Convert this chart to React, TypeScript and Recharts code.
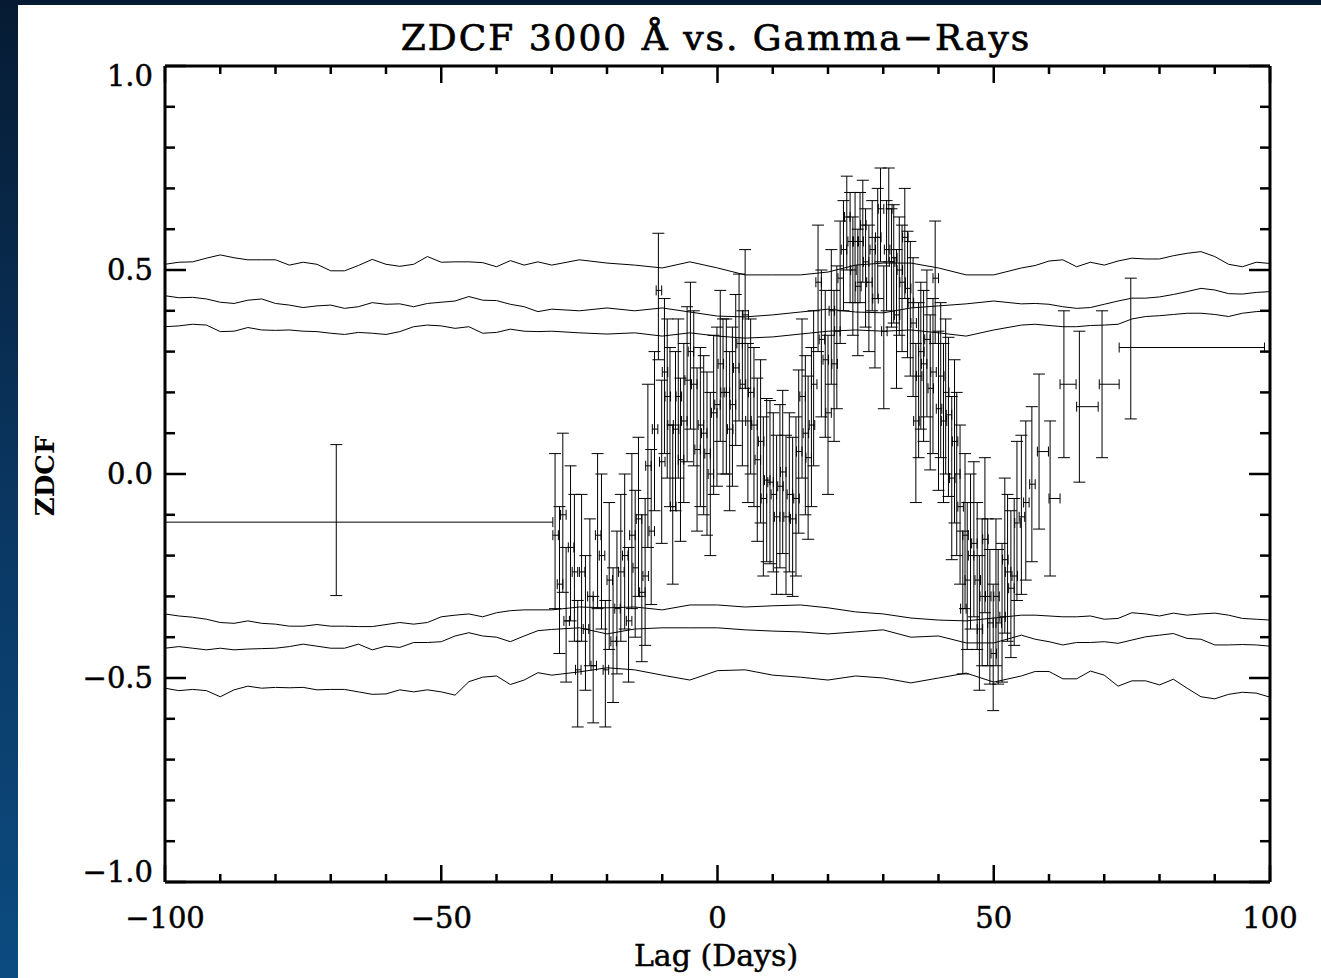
import { ComposedChart, Line, Scatter, ErrorBar, XAxis, YAxis } from "recharts";

// confidence contours (finer sampling where they are not hidden by the points)
const lagGrid = [
  -100, -97.5, -95, -92.5, -90, -87.5, -85, -82.5, -80, -77.5, -75, -72.5, -70, -67.5, -65, -62.5, -60, -57.5, -55, -52.5,
  -50, -47.5, -45, -42.5, -40, -37.5, -35, -32.5, -30,
  -25, -20, -15, -10, -5, 0, 5, 10, 15, 20, 25, 30, 35, 40, 45, 50, 55,
  57.5, 60, 62.5, 65, 67.5, 70, 72.5, 75, 77.5, 80, 82.5, 85, 87.5, 90, 92.5, 95, 97.5, 100,
];
const upperOuter = [
  0.514, 0.519, 0.52, 0.529, 0.537, 0.53, 0.525, 0.525, 0.525, 0.512, 0.519, 0.514, 0.498, 0.498, 0.511, 0.526, 0.514, 0.509, 0.514, 0.533,
  0.519, 0.52, 0.52, 0.518, 0.508, 0.523, 0.512, 0.52, 0.512,
  0.525, 0.517, 0.512, 0.505, 0.52, 0.505, 0.488, 0.488, 0.488, 0.495, 0.512, 0.517, 0.517, 0.505, 0.488, 0.488, 0.505,
  0.511, 0.522, 0.525, 0.508, 0.519, 0.512, 0.522, 0.529, 0.527, 0.527, 0.535, 0.541, 0.545, 0.533, 0.514, 0.508, 0.519, 0.516,
];
const upperMid = [
  0.437, 0.432, 0.433, 0.429, 0.421, 0.418, 0.426, 0.429, 0.418, 0.414, 0.408, 0.412, 0.414, 0.406, 0.41, 0.42, 0.416, 0.417, 0.41, 0.418,
  0.421, 0.424, 0.435, 0.426, 0.425, 0.416, 0.41, 0.398, 0.404,
  0.4, 0.407, 0.4, 0.407, 0.397, 0.387, 0.385, 0.39, 0.397, 0.404, 0.397, 0.395, 0.407, 0.412, 0.417, 0.424, 0.417,
  0.418, 0.416, 0.41, 0.406, 0.408, 0.416, 0.424, 0.431, 0.431, 0.434, 0.44, 0.447, 0.455, 0.451, 0.442, 0.441, 0.445, 0.447,
];
const upperInner = [
  0.361, 0.363, 0.367, 0.365, 0.349, 0.35, 0.359, 0.353, 0.352, 0.353, 0.35, 0.349, 0.345, 0.342, 0.347, 0.345, 0.342, 0.349, 0.361, 0.365,
  0.363, 0.357, 0.361, 0.345, 0.347, 0.355, 0.35, 0.349, 0.35,
  0.346, 0.343, 0.346, 0.338, 0.346, 0.338, 0.333, 0.336, 0.343, 0.35, 0.353, 0.35, 0.353, 0.346, 0.338, 0.353, 0.365,
  0.367, 0.364, 0.361, 0.361, 0.364, 0.365, 0.367, 0.38, 0.386, 0.388, 0.391, 0.394, 0.394, 0.391, 0.386, 0.394, 0.398, 0.4,
];
const lowerInner = [
  -0.343, -0.348, -0.351, -0.356, -0.364, -0.366, -0.36, -0.366, -0.368, -0.373, -0.373, -0.369, -0.373, -0.373, -0.374, -0.374, -0.369, -0.364, -0.368, -0.364,
  -0.35, -0.346, -0.343, -0.35, -0.34, -0.335, -0.333, -0.333, -0.333,
  -0.326, -0.328, -0.326, -0.333, -0.321, -0.321, -0.326, -0.323, -0.321, -0.328, -0.338, -0.343, -0.353, -0.358, -0.36, -0.353, -0.346,
  -0.346, -0.348, -0.35, -0.35, -0.348, -0.356, -0.354, -0.34, -0.343, -0.348, -0.341, -0.346, -0.343, -0.341, -0.346, -0.354, -0.356, -0.358,
];
const lowerMid = [
  -0.427, -0.423, -0.427, -0.431, -0.427, -0.431, -0.429, -0.428, -0.427, -0.423, -0.417, -0.422, -0.427, -0.427, -0.417, -0.431, -0.422, -0.425, -0.413, -0.413,
  -0.411, -0.397, -0.389, -0.397, -0.4, -0.411, -0.397, -0.384, -0.381,
  -0.377, -0.392, -0.38, -0.377, -0.377, -0.377, -0.382, -0.385, -0.387, -0.392, -0.387, -0.382, -0.4, -0.397, -0.414, -0.414, -0.395,
  -0.405, -0.411, -0.419, -0.413, -0.413, -0.411, -0.415, -0.407, -0.399, -0.395, -0.391, -0.403, -0.405, -0.419, -0.419, -0.418, -0.419, -0.422,
];
const lowerOuter = [
  -0.525, -0.531, -0.528, -0.531, -0.546, -0.529, -0.52, -0.525, -0.523, -0.524, -0.523, -0.529, -0.528, -0.528, -0.534, -0.54, -0.539, -0.529, -0.534, -0.529,
  -0.534, -0.542, -0.509, -0.498, -0.495, -0.516, -0.505, -0.487, -0.493,
  -0.485, -0.475, -0.48, -0.493, -0.505, -0.482, -0.48, -0.493, -0.498, -0.505, -0.495, -0.5, -0.512, -0.5, -0.488, -0.51, -0.495,
  -0.484, -0.484, -0.502, -0.502, -0.483, -0.493, -0.52, -0.507, -0.507, -0.517, -0.503, -0.525, -0.546, -0.551, -0.54, -0.535, -0.537, -0.547,
];

// ZDCF points
const lags = [
  -69.0, -29.4, -28.6, -28.0, -27.4, -26.6, -25.9, -25.3, -24.6, -23.9,
  -23.1, -22.5, -21.7, -21.0, -20.3, -19.6, -18.9, -18.2, -17.5, -16.8,
  -16.1, -15.5, -14.9, -14.3, -13.7, -13.1, -12.6, -12.0, -11.4, -10.7,
  -10.1, -9.6, -9.1, -8.6, -8.1, -7.6, -7.1, -6.7, -6.1, -5.5,
  -4.9, -4.3, -3.7, -3.1, -2.5, -1.9, -1.3, -0.7, -0.1, 0.5,
  1.0, 1.6, 2.2, 2.7, 3.3, 3.9, 4.5, 5.0, 5.5, 6.0,
  6.6, 7.2, 7.8, 8.3, 8.9, 9.5, 10.1, 10.7, 11.3, 11.8,
  12.4, 13.0, 13.6, 14.2, 14.7, 15.3, 15.9, 16.4, 17.0, 17.4,
  18.2, 18.8, 19.5, 20.0, 20.6, 21.1, 21.6, 22.2, 22.8, 23.4,
  24.0, 24.5, 24.9, 25.4, 25.8, 26.3, 26.8, 27.4, 28.0, 28.5,
  29.0, 29.5, 30.1, 30.6, 31.0, 31.5, 31.9, 32.4, 32.9, 33.4,
  33.9, 34.4, 34.9, 35.4, 35.9, 36.4, 36.8, 37.3, 37.9, 38.5,
  39.0, 39.4, 40.0, 40.4, 40.9, 41.3, 41.8, 42.4, 42.9, 43.3,
  43.9, 44.4, 44.8, 45.2, 45.8, 46.4, 47.0, 47.4, 47.9, 48.4,
  48.9, 49.3, 49.9, 50.4, 50.8, 51.5, 52.0, 52.5, 53.1, 53.7,
  54.2, 55.0, 55.8, 56.9, 58.2, 60.2, 62.7, 65.5, 69.6, 74.8,
];
const zdcf = [
  -0.118, -0.15, -0.27, -0.1, -0.36, -0.18, -0.24, -0.48, -0.24, -0.38,
  -0.3, -0.47, -0.15, -0.2, -0.48, -0.26, -0.41, -0.33, -0.24, -0.2,
  -0.36, -0.15, -0.23, -0.11, -0.29, -0.25, 0.02, -0.14, 0.11, 0.45,
  0.03, 0.25, 0.19, 0.12, -0.08, 0.11, 0.19, 0.035, 0.13, 0.23,
  0.3, 0.22, 0.06, 0.12, 0.1, 0.05, 0.0, 0.15, 0.17, 0.27,
  0.2, 0.2, 0.11, 0.17, 0.26, 0.32, 0.22, 0.39, 0.13, 0.2,
  0.12, 0.035, 0.08, -0.06, -0.015, -0.02, -0.05, -0.105, -0.03, 0.005,
  -0.105, -0.05, -0.11, -0.06, 0.055, 0.19, 0.1, 0.04, 0.12, 0.22,
  0.47, 0.33, 0.28, 0.15, 0.4, 0.27, 0.35, 0.48, 0.55, 0.63,
  0.57, 0.5, 0.57, 0.46, 0.57, 0.61, 0.52, 0.47, 0.55, 0.43,
  0.58, 0.65, 0.35, 0.55, 0.65, 0.52, 0.53, 0.39, 0.5, 0.47,
  0.58, 0.455, 0.42, 0.37, 0.13, 0.24, 0.3, 0.27, 0.33, 0.21,
  0.25, 0.48, 0.16, 0.24, 0.13, 0.2, 0.145, -0.01, 0.08, 0.0,
  -0.08, -0.33, -0.15, -0.26, -0.2, -0.17, -0.26, -0.38, -0.3, -0.16,
  -0.3, -0.365, -0.44, -0.3, -0.365, -0.35, -0.21, -0.24, -0.28, -0.25,
  -0.12, -0.105, -0.07, -0.025, 0.055, -0.06, 0.22, 0.165, 0.22, 0.31,
];
const zdcfErrDown = [
  0.18, 0.18, 0.17, 0.19, 0.15, 0.18, 0.17, 0.14, 0.17, 0.15,
  0.17, 0.14, 0.18, 0.18, 0.14, 0.17, 0.15, 0.16, 0.17, 0.18,
  0.15, 0.18, 0.17, 0.19, 0.17, 0.17, 0.2, 0.18, 0.2, 0.17,
  0.2, 0.2, 0.2, 0.2, 0.19, 0.2, 0.2, 0.2, 0.2, 0.2,
  0.19, 0.2, 0.2, 0.2, 0.2, 0.2, 0.2, 0.2, 0.2, 0.19,
  0.2, 0.2, 0.2, 0.2, 0.19, 0.19, 0.2, 0.18, 0.2, 0.2,
  0.2, 0.2, 0.2, 0.19, 0.2, 0.2, 0.19, 0.19, 0.2, 0.2,
  0.19, 0.19, 0.19, 0.19, 0.2, 0.2, 0.2, 0.2, 0.2, 0.2,
  0.17, 0.19, 0.19, 0.2, 0.18, 0.19, 0.19, 0.16, 0.15, 0.13,
  0.15, 0.16, 0.15, 0.17, 0.15, 0.14, 0.16, 0.17, 0.15, 0.17,
  0.15, 0.13, 0.19, 0.15, 0.13, 0.16, 0.16, 0.18, 0.16, 0.17,
  0.15, 0.17, 0.18, 0.18, 0.2, 0.2, 0.19, 0.19, 0.19, 0.2,
  0.2, 0.16, 0.2, 0.2, 0.2, 0.2, 0.2, 0.2, 0.2, 0.2,
  0.19, 0.16, 0.18, 0.17, 0.18, 0.18, 0.17, 0.15, 0.17, 0.18,
  0.17, 0.15, 0.14, 0.17, 0.15, 0.16, 0.18, 0.17, 0.17, 0.17,
  0.19, 0.19, 0.19, 0.19, 0.19, 0.19, 0.18, 0.185, 0.18, 0.175,
];
const zdcfErrUp = [
  0.19, 0.2, 0.19, 0.2, 0.18, 0.2, 0.19, 0.17, 0.19, 0.18,
  0.19, 0.17, 0.2, 0.2, 0.17, 0.19, 0.18, 0.19, 0.19, 0.2,
  0.18, 0.2, 0.19, 0.2, 0.19, 0.19, 0.2, 0.2, 0.19, 0.14,
  0.2, 0.18, 0.19, 0.19, 0.2, 0.19, 0.19, 0.2, 0.19, 0.18,
  0.17, 0.18, 0.2, 0.19, 0.19, 0.2, 0.2, 0.19, 0.19, 0.18,
  0.18, 0.18, 0.19, 0.19, 0.18, 0.17, 0.18, 0.16, 0.19, 0.18,
  0.19, 0.2, 0.2, 0.2, 0.2, 0.2, 0.2, 0.2, 0.2, 0.2,
  0.2, 0.2, 0.2, 0.2, 0.2, 0.19, 0.19, 0.2, 0.19, 0.18,
  0.14, 0.17, 0.17, 0.19, 0.15, 0.18, 0.16, 0.14, 0.12, 0.1,
  0.12, 0.13, 0.12, 0.14, 0.12, 0.11, 0.13, 0.14, 0.12, 0.15,
  0.12, 0.1, 0.16, 0.12, 0.1, 0.13, 0.13, 0.16, 0.13, 0.14,
  0.12, 0.14, 0.15, 0.16, 0.19, 0.18, 0.17, 0.18, 0.17, 0.18,
  0.18, 0.14, 0.19, 0.18, 0.19, 0.18, 0.19, 0.2, 0.2, 0.2,
  0.2, 0.19, 0.2, 0.19, 0.2, 0.2, 0.19, 0.18, 0.19, 0.2,
  0.19, 0.18, 0.17, 0.19, 0.18, 0.18, 0.2, 0.19, 0.19, 0.19,
  0.2, 0.2, 0.2, 0.19, 0.19, 0.19, 0.18, 0.185, 0.18, 0.17,
];
// lag errors (days): narrow bins share one width, wide bins listed by lag
const narrowLagErr: [number, number] = [0.4, 0.6];
const wideLagErr: Record<string, [number, number]> = {
  "-69": [31.0, 39.2],
  "58.2": [0.3, 1.7],
  "60.2": [0.2, 1.8],
  "62.7": [0.7, 2.2],
  "65.5": [0.5, 3.4],
  "69.6": [0.5, 3.1],
  "74.8": [2.1, 24.2],
};

const xTicks = [-100, -90, -80, -70, -60, -50, -40, -30, -20, -10, 0, 10, 20, 30, 40, 50, 60, 70, 80, 90, 100];
const yTicks = [-1, -0.9, -0.8, -0.7, -0.6, -0.5, -0.4, -0.3, -0.2, -0.1, 0, 0.1, 0.2, 0.3, 0.4, 0.5, 0.6, 0.7, 0.8, 0.9, 1];

const contourData = lagGrid.map((lag, i) => ({
  lag,
  upperOuter: upperOuter[i],
  upperMid: upperMid[i],
  upperInner: upperInner[i],
  lowerInner: lowerInner[i],
  lowerMid: lowerMid[i],
  lowerOuter: lowerOuter[i],
}));

const points = lags.map((lag, i) => ({
  lag,
  r: zdcf[i],
  rErr: [zdcfErrDown[i], zdcfErrUp[i]],
  lagErr: wideLagErr[String(lag)] || narrowLagErr,
}));

const FONT = '"DejaVu Serif", "Liberation Serif", serif';
const minus = (s: string) => s.replace("-", "\u2212");
const isMajorY = (v: number) => Math.abs(v * 2 - Math.round(v * 2)) < 1e-6;

const BottomTick = (p: any) => {
  const v = p.payload.value;
  const major = v % 50 === 0;
  return (
    <g>
      <line x1={p.x} y1={p.y} x2={p.x} y2={p.y - (major ? 17 : 8)} stroke="#000" strokeWidth={2.5} />
      {major && (
        <text x={p.x} y={p.y + 46} textAnchor="middle" fontFamily={FONT} fontSize={29} fill="#000" stroke="#000" strokeWidth={0.5}>
          {minus(String(v))}
        </text>
      )}
    </g>
  );
};

const TopTick = (p: any) => {
  const major = p.payload.value % 50 === 0;
  return <line x1={p.x} y1={p.y} x2={p.x} y2={p.y + (major ? 17 : 8)} stroke="#000" strokeWidth={2.5} />;
};

const LeftTick = (p: any) => {
  const v = p.payload.value;
  const major = isMajorY(v);
  // end labels are nudged inward like the original
  const dy = v === 1 ? 10 : v === -1 ? -10 : 0;
  return (
    <g>
      <line x1={p.x} y1={p.y} x2={p.x + (major ? 21 : 10)} y2={p.y} stroke="#000" strokeWidth={2.5} />
      {major && (
        <text x={p.x - 12} y={p.y + dy + 10} textAnchor="end" fontFamily={FONT} fontSize={29} fill="#000" stroke="#000" strokeWidth={0.5}>
          {minus(v.toFixed(1))}
        </text>
      )}
    </g>
  );
};

const RightTick = (p: any) => {
  const major = isMajorY(p.payload.value);
  return <line x1={p.x} y1={p.y} x2={p.x - (major ? 21 : 10)} y2={p.y} stroke="#000" strokeWidth={2.5} />;
};

const noDot = () => <g />;
const axisLine = { stroke: "#000", strokeWidth: 3 };

export default function App() {
  return (
    <div
      style={{
        position: "absolute",
        left: 0,
        top: 0,
        width: 1321,
        height: 978,
        overflow: "hidden",
        background: "linear-gradient(180deg, #061b33 0%, #0a3864 55%, #0c4b80 100%)",
      }}
    >
      <div style={{ position: "absolute", left: 18, top: 5, right: 0, bottom: 0, background: "#fff" }} />
      <div style={{ position: "absolute", left: 0, top: 0 }}>
        <ComposedChart
          width={1321}
          height={978}
          data={contourData}
          margin={{ top: 65, right: 50, bottom: 95, left: 164 }}
        >
          <XAxis
            dataKey="lag"
            type="number"
            domain={[-100, 100]}
            ticks={xTicks}
            interval={0}
            allowDataOverflow
            height={1}
            tickSize={0}
            tickMargin={0}
            tickLine={false}
            axisLine={axisLine}
            tick={BottomTick}
          />
          <XAxis
            xAxisId="top"
            orientation="top"
            dataKey="lag"
            type="number"
            domain={[-100, 100]}
            ticks={xTicks}
            interval={0}
            allowDataOverflow
            height={1}
            tickSize={0}
            tickMargin={0}
            tickLine={false}
            axisLine={axisLine}
            tick={TopTick}
          />
          <YAxis
            type="number"
            domain={[-1, 1]}
            ticks={yTicks}
            interval={0}
            allowDataOverflow
            width={1}
            tickSize={0}
            tickMargin={0}
            tickLine={false}
            axisLine={axisLine}
            tick={LeftTick}
          />
          <YAxis
            yAxisId="right"
            orientation="right"
            type="number"
            domain={[-1, 1]}
            ticks={yTicks}
            interval={0}
            allowDataOverflow
            width={1}
            tickSize={0}
            tickMargin={0}
            tickLine={false}
            axisLine={axisLine}
            tick={RightTick}
          />

          <Line dataKey="upperOuter" type="linear" stroke="#000" strokeWidth={1} dot={false} isAnimationActive={false} />
          <Line dataKey="upperMid" type="linear" stroke="#000" strokeWidth={1} dot={false} isAnimationActive={false} />
          <Line dataKey="upperInner" type="linear" stroke="#000" strokeWidth={1} dot={false} isAnimationActive={false} />
          <Line dataKey="lowerInner" type="linear" stroke="#000" strokeWidth={1} dot={false} isAnimationActive={false} />
          <Line dataKey="lowerMid" type="linear" stroke="#000" strokeWidth={1} dot={false} isAnimationActive={false} />
          <Line dataKey="lowerOuter" type="linear" stroke="#000" strokeWidth={1} dot={false} isAnimationActive={false} />

          <Scatter data={points} dataKey="r" shape={noDot} isAnimationActive={false}>
            <ErrorBar direction="y" dataKey="rErr" width={6} stroke="#000" strokeWidth={1} />
            <ErrorBar direction="x" dataKey="lagErr" width={5} stroke="#000" strokeWidth={1} />
          </Scatter>

          <text x={716} y={50} textAnchor="middle" fontFamily={FONT} fontSize={36} letterSpacing={2} fill="#000" stroke="#000" strokeWidth={0.7}>
            ZDCF 3000 Å vs. Gamma{"\u2212"}Rays
          </text>
          <text x={716} y={966} textAnchor="middle" fontFamily={FONT} fontSize={30} fill="#000" stroke="#000" strokeWidth={0.5}>
            Lag (Days)
          </text>
          <text
            x={54}
            y={476}
            textAnchor="middle"
            fontFamily={FONT}
            fontSize={26}
            fontWeight="bold"
            fill="#000"
            transform="rotate(-90 54 476)"
          >
            ZDCF
          </text>
        </ComposedChart>
      </div>
    </div>
  );
}
